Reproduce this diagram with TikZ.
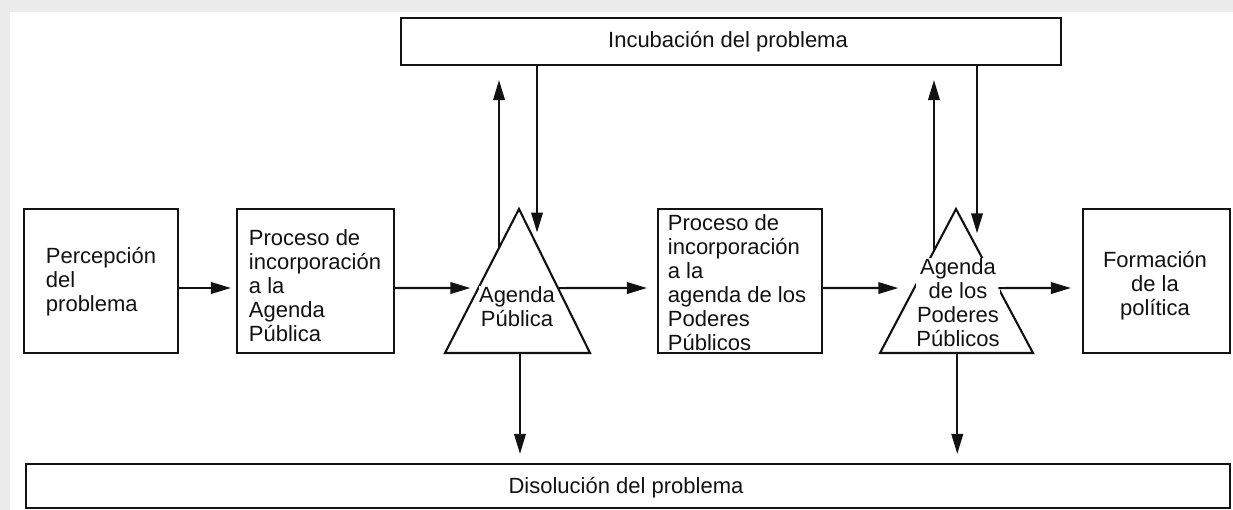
\documentclass[tikz,border=0pt]{standalone}
\usepackage{fontspec}
\setmainfont{Liberation Sans}
\usetikzlibrary{arrows.meta,calc}
\definecolor{ink}{RGB}{18,18,18}
\definecolor{frame}{RGB}{236,236,236}
\begin{document}
\begin{tikzpicture}[x=1pt,y=-1pt,
  ln/.style={line width=2.1pt, draw=ink},
  box/.style={ln, rectangle, inner sep=0pt},
  txt/.style={font=\fontsize{22}{24}\selectfont, align=left, inner sep=0pt, text=ink},
  ctxt/.style={txt, align=center},
  arr/.style={ln, -{Triangle[length=20pt,width=11.5pt]}}]
\useasboundingbox (0,0) rectangle (1233,510);
\fill[frame] (0,0) rectangle (1233,510);
\fill[white] (10,12) rectangle (1233,510);

% boxes
\node[box, minimum width=660pt, minimum height=47pt] (inc) at (731,41.5) {};
\node[ctxt] (inct) at (728,42) {Incubación del problema};
\node[box, minimum width=1204pt, minimum height=44pt] (dis) at (628,486) {};
\node[ctxt] (dist) at (626,488) {Disolución del problema};

\node[box, minimum width=154pt, minimum height=144pt] (b1) at (101,281) {};
\node[txt] (b1t) at (101,282) {Percepción\\del\\problema};
\node[box, minimum width=157pt, minimum height=144pt] (b2) at (315.5,281) {};
\node[txt] (b2t) at (315,286) {Proceso de\\incorporación\\a la\\Agenda\\Pública};
\node[box, minimum width=164pt, minimum height=144pt] (b3) at (740,281) {};
\node[txt] (b3t) at (737,283) {Proceso de\\incorporación\\a la\\agenda de los\\Poderes\\Públicos};
\node[box, minimum width=147pt, minimum height=144pt] (b4) at (1156.5,281) {};
\node[ctxt] (b4t) at (1155,286) {Formación\\de la\\política};

% triangles
\coordinate (t1a) at (519,209);
\coordinate (t1l) at (445,353);
\coordinate (t1r) at (590,353);
\draw[ln, line join=miter] (t1a) -- (t1l) -- (t1r) -- cycle;
\node[ctxt, fill=white, inner sep=0.5pt] (t1t) at (517,307) {Agenda\\Pública};

\coordinate (t2a) at (956,209);
\coordinate (t2l) at (880,353);
\coordinate (t2r) at (1033,353);
\draw[ln, line join=miter] (t2a) -- (t2l) -- (t2r) -- cycle;
\node[ctxt, fill=white, inner sep=0.5pt] (t2t) at (958,303) {Agenda\\de los\\Poderes\\Públicos};

% connector points on the triangles
\coordinate (ym) at (0,288);
\coordinate (t1in) at ($(t1l)!0.451!(t1a)$);
\coordinate (t1out) at ($(t1r)!0.451!(t1a)$);
\coordinate (t2in) at ($(t2l)!0.451!(t2a)$);
\coordinate (t2out) at ($(t2r)!0.451!(t2a)$);
\coordinate (u1) at ($(t1l)!0.73!(t1a)$);
\coordinate (d1) at ($(t1a)!0.254!(t1r)$);
\coordinate (u2) at ($(t2l)!0.71!(t2a)$);
\coordinate (d2) at ($(t2a)!0.273!(t2r)$);
\coordinate (s1) at ($(t1l)!0.517!(t1r)$);
\coordinate (s2) at ($(t2l)!0.505!(t2r)$);

% horizontal connectors
\draw[arr, shorten >=5pt] (b1.east |- ym) -- (b2.west |- ym);
\draw[arr, shorten >=8pt] (b2.east |- ym) -- (t1in);
\draw[arr, shorten >=10pt] (t1out) -- (b3.west |- ym);
\draw[arr, shorten >=16pt] (b3.east |- ym) -- (t2in);
\draw[arr, shorten >=11pt] (t2out) -- (b4.west |- ym);

% vertical connectors
\draw[arr, shorten >=14pt] (u1) -- (u1 |- inc.south);
\draw[arr, shorten >=13pt] (d1 |- inc.south) -- (d1);
\draw[arr, shorten >=14pt] (u2) -- (u2 |- inc.south);
\draw[arr, shorten >=15pt] (d2 |- inc.south) -- (d2);
\draw[arr, shorten >=9pt] (s1) -- (s1 |- dis.north);
\draw[arr, shorten >=9pt] (s2) -- (s2 |- dis.north);
\end{tikzpicture}
\end{document}
